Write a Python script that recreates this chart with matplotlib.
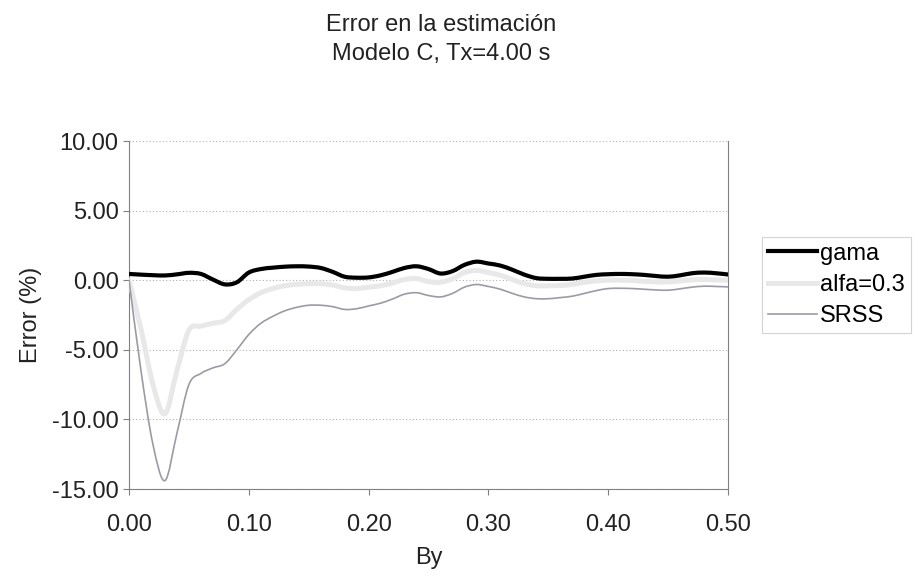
import numpy as np
import matplotlib

matplotlib.use("Agg")
import matplotlib.pyplot as plt  # noqa: E402
from matplotlib.lines import Line2D  # noqa: E402
from matplotlib.patches import PathPatch  # noqa: E402
from matplotlib.path import Path  # noqa: E402

plt.rcParams["font.family"] = ["Liberation Sans", "DejaVu Sans"]

# values, By in steps of 0.01
by = np.round(np.arange(0.0, 0.505, 0.01), 2)
gama = [0.45, 0.40, 0.36, 0.34, 0.42, 0.53, 0.45, 0.05, -0.30, -0.15,
        0.55, 0.80, 0.90, 0.97, 1.00, 0.98, 0.88, 0.60, 0.25, 0.18,
        0.20, 0.35, 0.60, 0.88, 1.00, 0.80, 0.48, 0.65, 1.10, 1.33,
        1.20, 1.05, 0.75, 0.40, 0.15, 0.10, 0.10, 0.12, 0.25, 0.38,
        0.43, 0.45, 0.43, 0.38, 0.30, 0.25, 0.35, 0.50, 0.55, 0.50,
        0.41]
alfa = [0.0, -3.5, -7.5, -9.6, -6.5, -3.6, -3.3, -3.1, -2.9, -2.1,
        -1.4, -0.9, -0.6, -0.4, -0.3, -0.25, -0.25, -0.35, -0.55, -0.6,
        -0.5, -0.4, -0.2, 0.05, 0.12, -0.1, -0.15, 0.1, 0.55, 0.7,
        0.55, 0.35, 0.05, -0.25, -0.4, -0.4, -0.38, -0.3, -0.15, -0.05,
        0.0, 0.0, -0.02, -0.08, -0.12, -0.12, -0.05, 0.02, 0.05, 0.02,
        0.0]
srss = [0.0, -6.5, -11.8, -14.4, -11.0, -7.5, -6.7, -6.3, -6.0, -5.0,
        -3.9, -3.1, -2.6, -2.2, -1.95, -1.8, -1.8, -1.9, -2.1, -2.05,
        -1.85, -1.65, -1.35, -1.0, -0.9, -1.1, -1.2, -0.95, -0.5, -0.31,
        -0.45, -0.65, -0.95, -1.2, -1.33, -1.33, -1.25, -1.15, -0.95, -0.75,
        -0.6, -0.58, -0.6, -0.65, -0.7, -0.72, -0.62, -0.5, -0.43, -0.45,
        -0.48]

xticks = [0.0, 0.1, 0.2, 0.3, 0.4, 0.5]
yticks = [-15, -10, -5, 0, 5, 10]
FS = 17


def smooth_line(ax, x, y, **kw):
    # excel style "smoothed line": bezier segments through the data points
    pts = np.column_stack([x, y]).astype(float)
    n = len(pts)
    verts, codes = [pts[0]], [Path.MOVETO]
    for i in range(n - 1):
        p0 = pts[max(i - 1, 0)]
        p1, p2 = pts[i], pts[i + 1]
        p3 = pts[min(i + 2, n - 1)]
        verts += [p1 + (p2 - p0) / 6, p2 - (p3 - p1) / 6, p2]
        codes += [Path.CURVE4] * 3
    patch = PathPatch(Path(verts, codes), facecolor="none",
                      capstyle="round", joinstyle="round", **kw)
    ax.add_patch(patch)
    return Line2D([], [], color=kw["edgecolor"], lw=kw["lw"])


W, H = 918, 577
fig = plt.figure(figsize=(W / 100, H / 100), dpi=100)
ax = fig.add_axes([129 / W, 1 - 489 / H, (728 - 129) / W, (489 - 141) / H])

h_alfa = smooth_line(ax, by, alfa, edgecolor="#e8e8e8", lw=3.6, zorder=3)
h_srss = smooth_line(ax, by, srss, edgecolor="#9b9ba5", lw=1.2, zorder=4)
h_gama = smooth_line(ax, by, gama, edgecolor="black", lw=3.0, zorder=5)

ax.set_xlim(0, 0.5)
ax.set_ylim(-15, 10)
ax.set_xticks(xticks)
ax.set_xticklabels([f"{v:.2f}" for v in xticks])
ax.set_yticks(yticks)
ax.set_yticklabels([f"{v:.2f}" for v in yticks])
ax.tick_params(labelsize=FS, colors="#808080", labelcolor="#222222",
               length=4, direction="out")
ax.tick_params(axis="x", pad=14)
ax.yaxis.grid(True, color="#b0b0b0", linestyle=(0, (1, 2)), lw=0.8)
ax.set_axisbelow(True)
for s in ["left", "bottom", "right"]:
    ax.spines[s].set_color("#808080")
ax.spines["top"].set_visible(False)

ax.set_xlabel("By", fontsize=FS, color="#222222", labelpad=8)
ax.set_ylabel("Error (%)", fontsize=FS, color="#222222", labelpad=7)

fig.text(441 / W, 1 - 25 / H, "Error en la estimación", ha="center",
         va="center", fontsize=FS, color="#222222")
fig.text(441 / W, 1 - 54 / H, "Modelo C, Tx=4.00 s", ha="center",
         va="center", fontsize=FS, color="#222222")

leg = fig.legend([h_gama, h_alfa, h_srss], ["gama", "alfa=0.3", "SRSS"],
                 loc="center left", bbox_to_anchor=(762 / W, 1 - 285 / H),
                 fontsize=FS, frameon=True, fancybox=False,
                 handlelength=2.1, handletextpad=0.1, labelspacing=0.4,
                 borderpad=0.25, borderaxespad=0)
leg.get_frame().set_edgecolor("#c8c8c8")
leg.get_frame().set_linewidth(0.8)

fig.savefig("out.png", dpi=100)
